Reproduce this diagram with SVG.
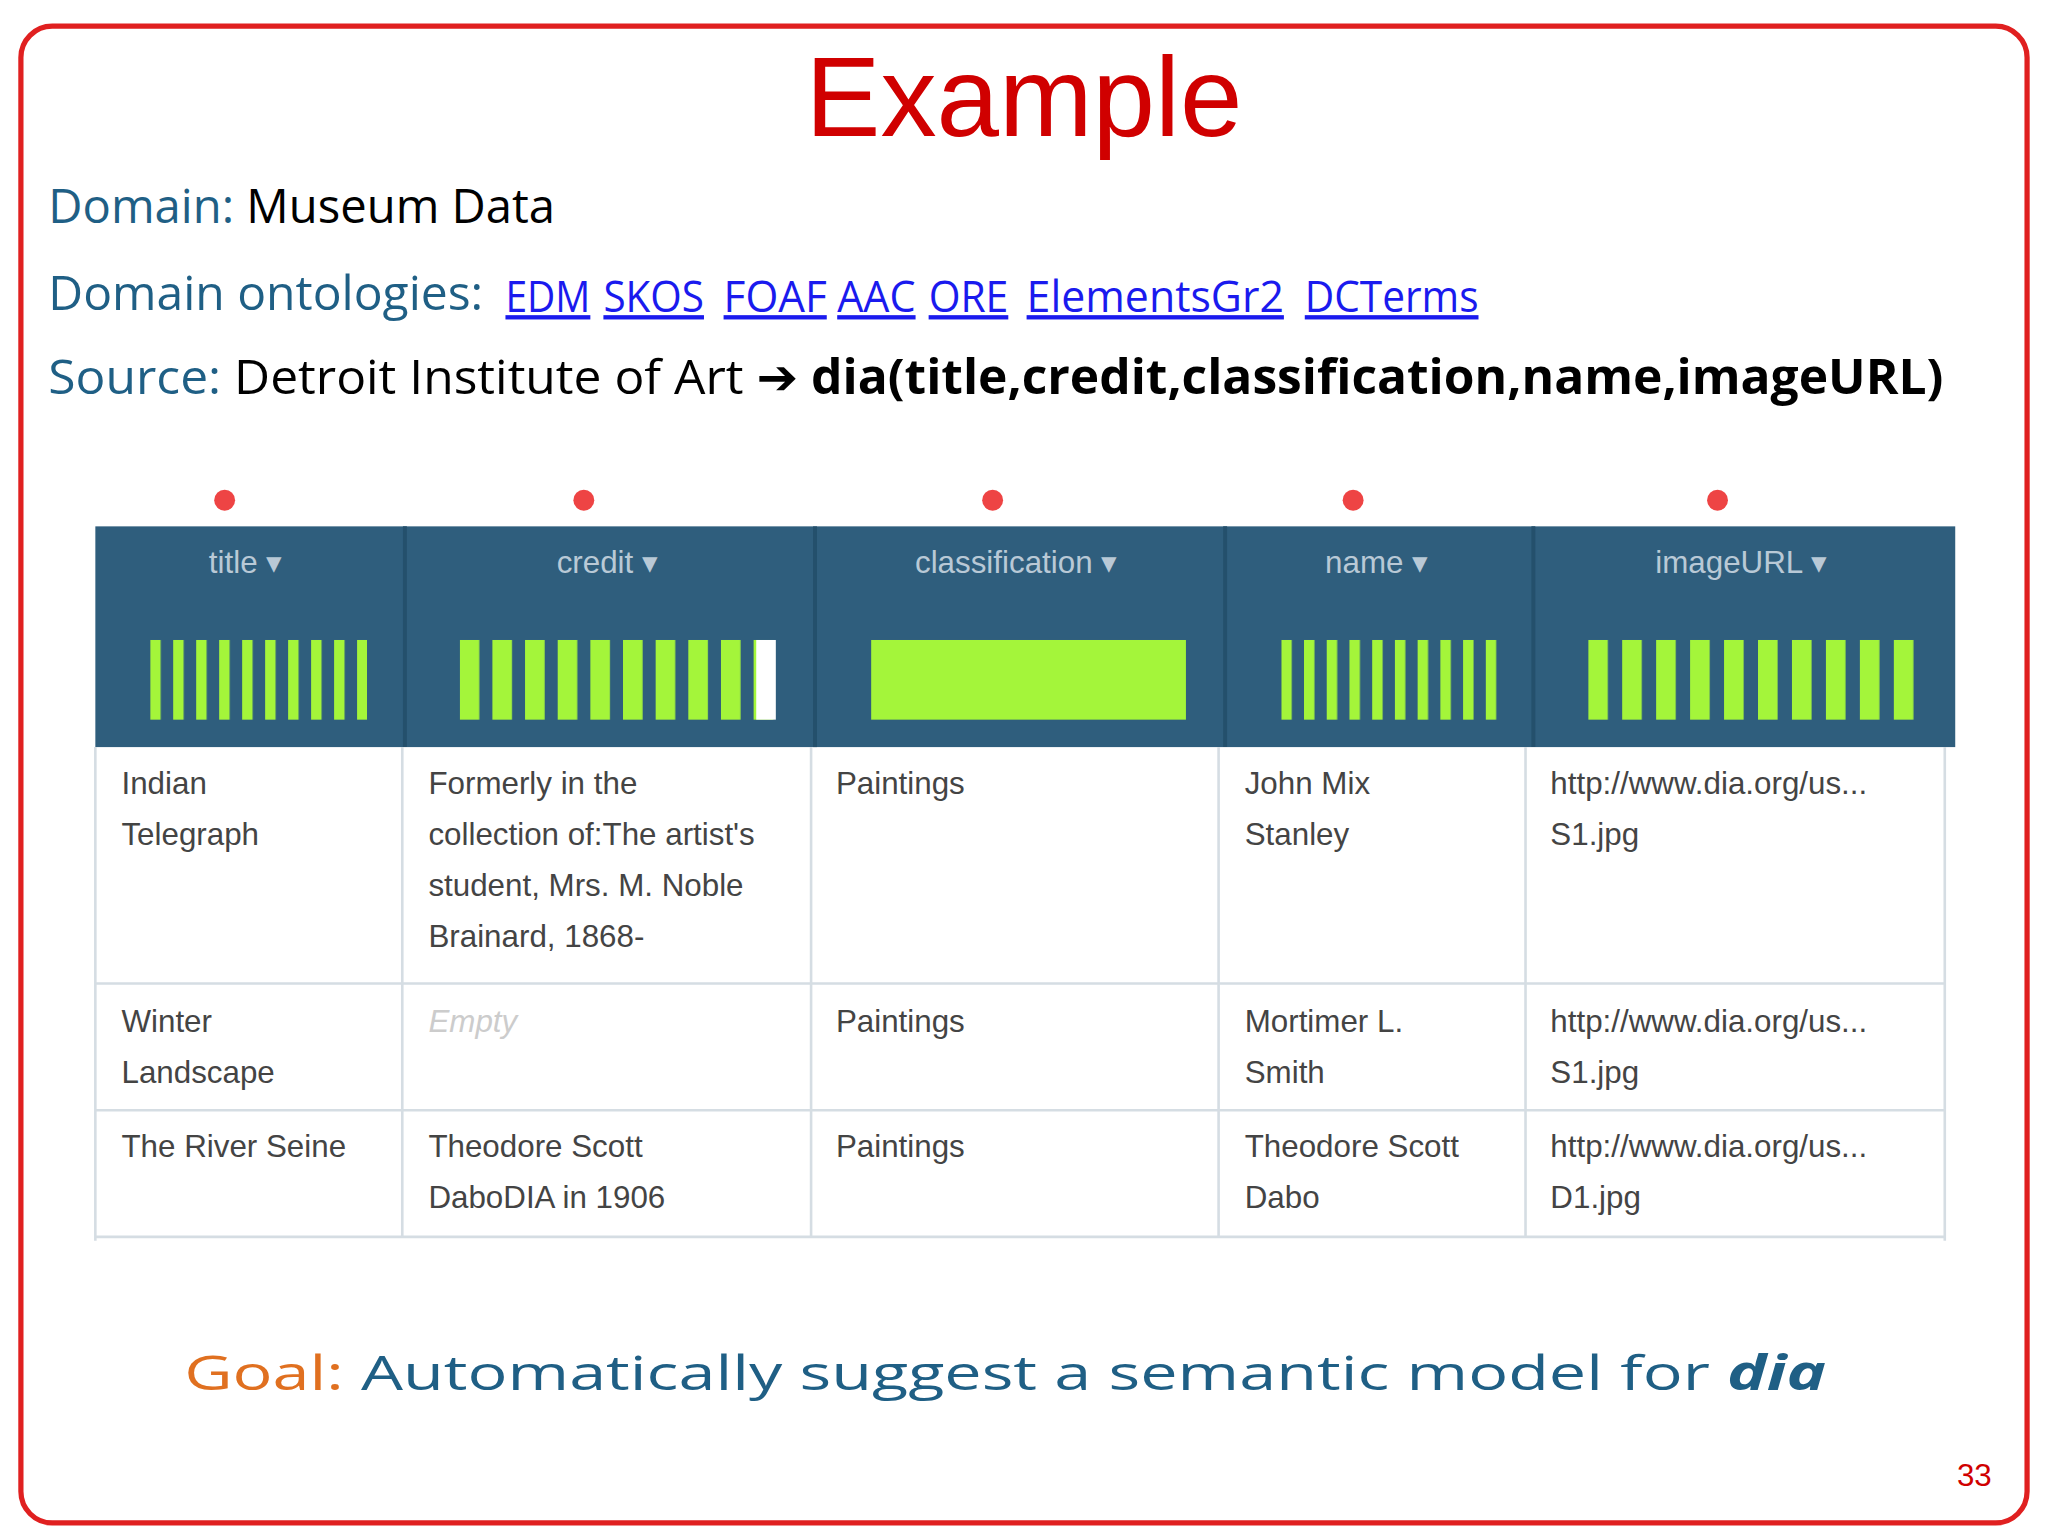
<svg xmlns="http://www.w3.org/2000/svg" width="2048" height="1536" viewBox="0 0 2048 1536">
<style>
.h{font-family:"Open Sans","DejaVu Sans",sans-serif;font-size:37px}
.b{fill:#1f5f85}
.k{fill:#000}
.l{fill:#1a1aee;text-decoration:underline;font-size:33px}
.th{font-family:"Liberation Sans",Arial,sans-serif;font-size:24px;fill:#b9c9d6;text-anchor:middle}
.td{font-family:"Liberation Sans",Arial,sans-serif;font-size:24px;fill:#444}
.g{stroke:#d5dde3;stroke-width:2}
</style>
<defs>
<pattern id="p1" patternUnits="userSpaceOnUse" x="115" y="0" width="17.6" height="10"><rect width="8" height="10" fill="#a4f53a"/></pattern>
<pattern id="p2" patternUnits="userSpaceOnUse" x="352" y="0" width="25" height="10"><rect width="15" height="10" fill="#a4f53a"/></pattern>
<pattern id="p4" patternUnits="userSpaceOnUse" x="981" y="0" width="17.4" height="10"><rect width="8" height="10" fill="#a4f53a"/></pattern>
<pattern id="p5" patternUnits="userSpaceOnUse" x="1216" y="0" width="26" height="10"><rect width="15" height="10" fill="#a4f53a"/></pattern>
</defs>
<rect width="2048" height="1536" fill="#fff"/>
<g transform="scale(1.3061)">
<g id="frame"><rect x="16" y="20" width="1536" height="1146" rx="24" fill="#fff" stroke="#e02020" stroke-width="4"/></g>
<g id="title"><text x="784" y="104" text-anchor="middle" font-family="Liberation Sans,Arial,sans-serif" font-size="86" fill="#d00000">Example</text></g>
<g id="info">
<text x="37" y="171" class="h" textLength="388" lengthAdjust="spacingAndGlyphs"><tspan class="b">Domain: </tspan><tspan class="k">Museum Data</tspan></text>
<text x="37" y="237" class="h b" textLength="333" lengthAdjust="spacingAndGlyphs">Domain ontologies:</text>
<g class="h l">
<text x="387" y="239" textLength="65" lengthAdjust="spacingAndGlyphs">EDM</text>
<text x="462" y="239" textLength="77" lengthAdjust="spacingAndGlyphs">SKOS</text>
<text x="554" y="239" textLength="79" lengthAdjust="spacingAndGlyphs">FOAF</text>
<text x="641" y="239" textLength="60" lengthAdjust="spacingAndGlyphs">AAC</text>
<text x="711" y="239" textLength="61" lengthAdjust="spacingAndGlyphs">ORE</text>
<text x="786" y="239" textLength="197" lengthAdjust="spacingAndGlyphs">ElementsGr2</text>
<text x="999" y="239" textLength="133" lengthAdjust="spacingAndGlyphs">DCTerms</text>
</g>
<text x="37" y="302" class="h" textLength="1451" lengthAdjust="spacingAndGlyphs"><tspan class="b">Source: </tspan><tspan class="k">Detroit Institute of Art ➔ </tspan><tspan class="k" font-weight="bold">dia(title,credit,classification,name,imageURL)</tspan></text>
</g>
<g id="table">
<g fill="#ee4444"><circle cx="172" cy="383" r="8"/><circle cx="447" cy="383" r="8"/><circle cx="760" cy="383" r="8"/><circle cx="1036" cy="383" r="8"/><circle cx="1315" cy="383" r="8"/></g>
<rect x="73" y="403" width="1424" height="169" fill="#2f5e7d"/>
<g stroke="#24506c" stroke-width="3"><line x1="310" y1="403" x2="310" y2="572"/><line x1="624" y1="403" x2="624" y2="572"/><line x1="938" y1="403" x2="938" y2="572"/><line x1="1174" y1="403" x2="1174" y2="572"/></g>
<text y="439" class="th"><tspan x="188">title ▾</tspan><tspan x="465">credit ▾</tspan><tspan x="778">classification ▾</tspan><tspan x="1054">name ▾</tspan><tspan x="1333">imageURL ▾</tspan></text>
<rect x="115" y="490" width="166" height="61" fill="url(#p1)"/>
<rect x="352" y="490" width="242" height="61" fill="url(#p2)"/>
<rect x="579" y="490" width="15" height="61" fill="#fff"/>
<rect x="667" y="490" width="241" height="61" fill="#a4f53a"/>
<rect x="981" y="490" width="165" height="61" fill="url(#p4)"/>
<rect x="1216" y="490" width="252" height="61" fill="url(#p5)"/>
<g class="g"><line x1="73" y1="753" x2="1489" y2="753"/><line x1="73" y1="850" x2="1489" y2="850"/><line x1="73" y1="947" x2="1489" y2="947"/>
<line x1="73" y1="572" x2="73" y2="950"/><line x1="308" y1="572" x2="308" y2="947"/><line x1="621" y1="572" x2="621" y2="947"/><line x1="933" y1="572" x2="933" y2="947"/><line x1="1168" y1="572" x2="1168" y2="947"/><line x1="1489" y1="572" x2="1489" y2="950"/></g>
<g class="td">
<text x="93" y="608">Indian<tspan x="93" dy="39">Telegraph</tspan></text>
<text x="328" y="608">Formerly in the<tspan x="328" dy="39">collection of:The artist's</tspan><tspan x="328" dy="39">student, Mrs. M. Noble</tspan><tspan x="328" dy="39">Brainard, 1868-</tspan></text>
<text x="640" y="608">Paintings</text>
<text x="953" y="608">John Mix<tspan x="953" dy="39">Stanley</tspan></text>
<text x="1187" y="608">http://www.dia.org/us...<tspan x="1187" dy="39">S1.jpg</tspan></text>
<text x="93" y="790">Winter<tspan x="93" dy="39">Landscape</tspan></text>
<text x="328" y="790" fill="#ccc" font-style="italic">Empty</text>
<text x="640" y="790">Paintings</text>
<text x="953" y="790">Mortimer L.<tspan x="953" dy="39">Smith</tspan></text>
<text x="1187" y="790">http://www.dia.org/us...<tspan x="1187" dy="39">S1.jpg</tspan></text>
<text x="93" y="886">The River Seine</text>
<text x="328" y="886">Theodore Scott<tspan x="328" dy="39">DaboDIA in 1906</tspan></text>
<text x="640" y="886">Paintings</text>
<text x="953" y="886">Theodore Scott<tspan x="953" dy="39">Dabo</tspan></text>
<text x="1187" y="886">http://www.dia.org/us...<tspan x="1187" dy="39">D1.jpg</tspan></text>
</g>
</g>
<g id="goal"><text x="141" y="1064" class="h" font-size="52" textLength="1257" lengthAdjust="spacingAndGlyphs"><tspan fill="#e07020">Goal: </tspan><tspan class="b">Automatically suggest a semantic model for </tspan><tspan class="b" font-weight="bold" font-style="italic">dia</tspan></text></g>
<text x="1525" y="1138" text-anchor="end" font-family="Liberation Sans,Arial,sans-serif" font-size="24" fill="#d00000">33</text>
</g>
</svg>
